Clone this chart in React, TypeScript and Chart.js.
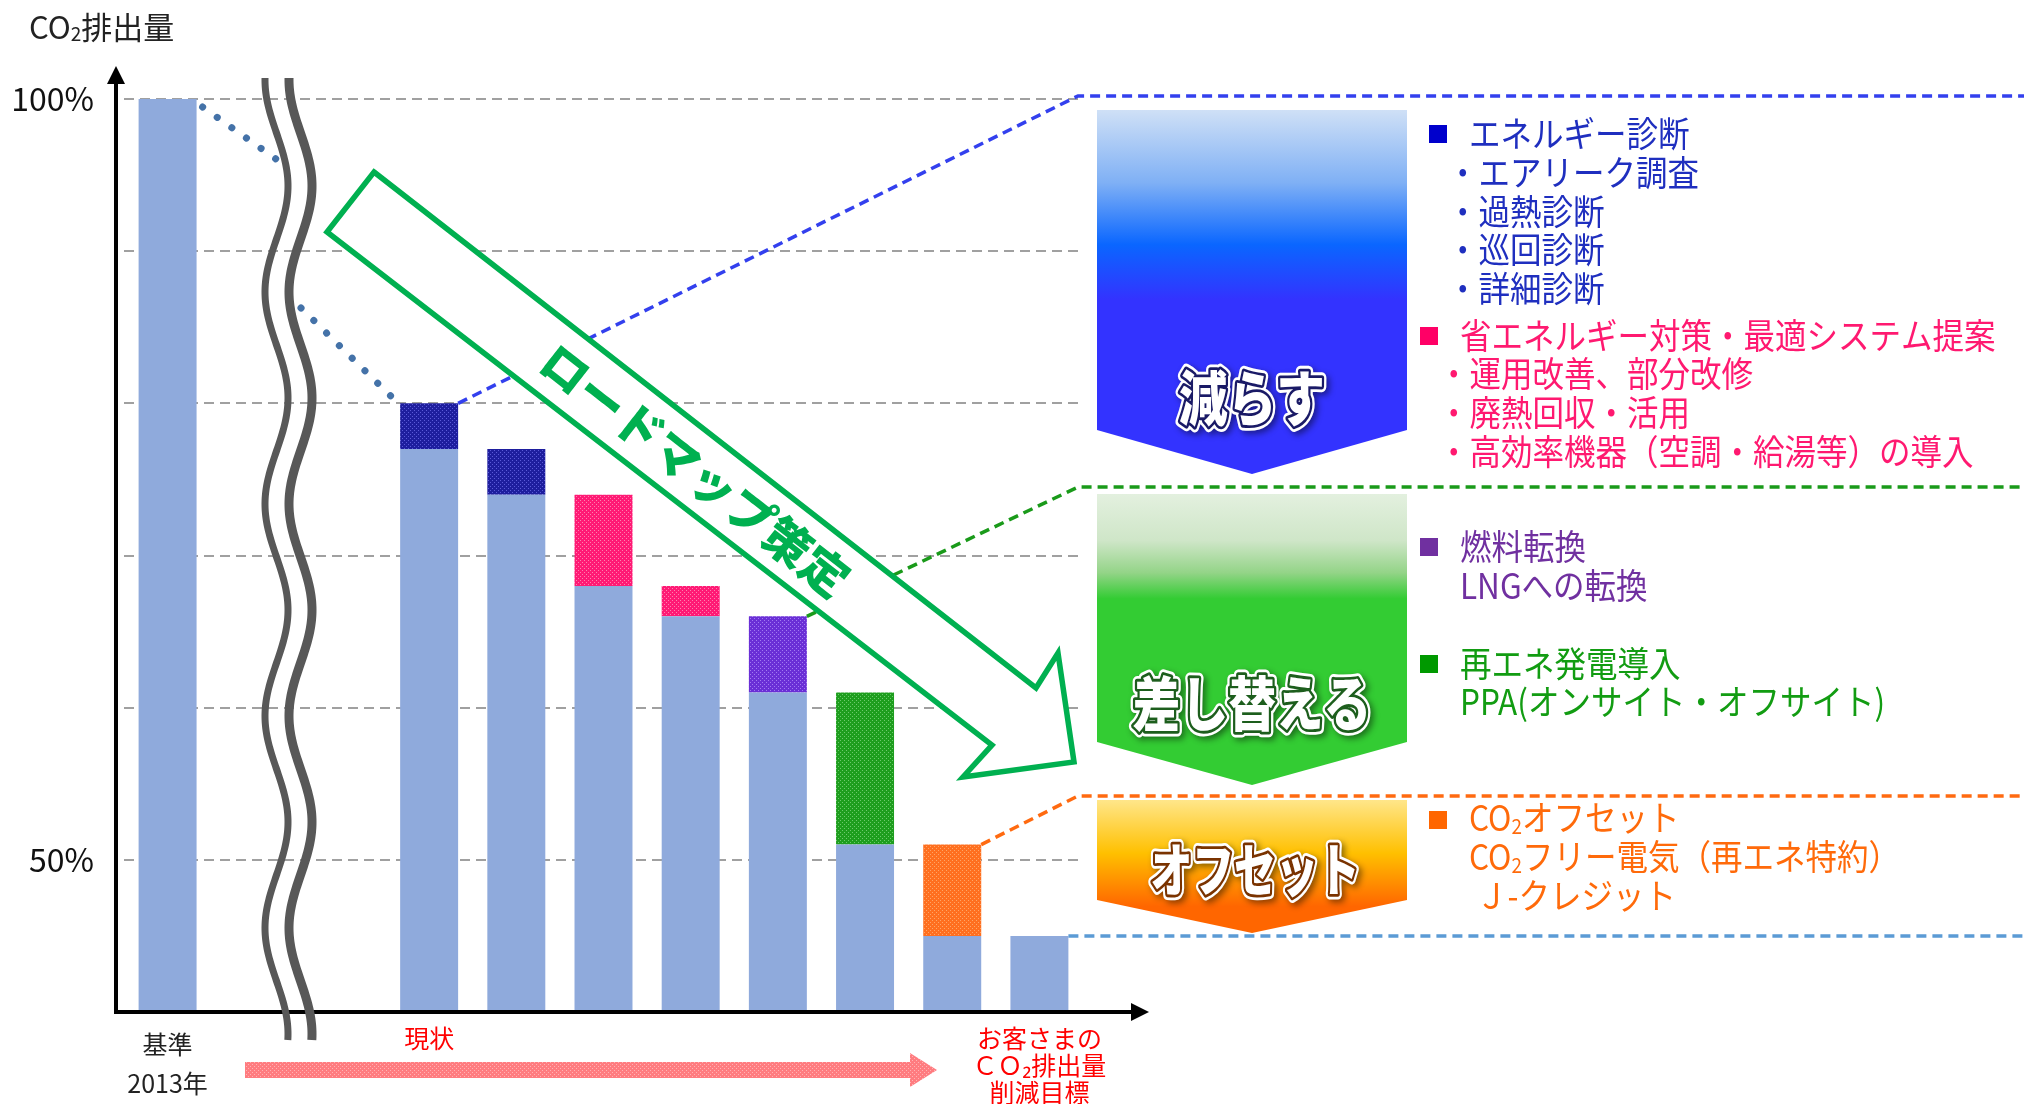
import React, { useEffect, useRef } from 'react';
import { Chart, registerables } from 'chart.js';

Chart.register(...registerables);

const FONT = '"Noto Sans CJK JP", "Noto Sans", sans-serif';

// ---- data ----
const categories: (string | string[])[] = [
  ['基準', '2013年'], '', '', '現状', '', '', '', '', '', '',
  ['お客さまの', 'ＣＯ₂排出量', '削減目標'],
];
const baseValues = [100, null, null, 77, 74, 68, 66, 61, 51, 45, 45];
const diagnosisValues = [null, null, null, 3, 3, null, null, null, null, null, null];
const savingValues = [null, null, null, null, null, 6, 2, null, null, null, null];
const fuelSwitchValues = [null, null, null, null, null, null, null, 5, null, null, null];
const renewableValues = [null, null, null, null, null, null, null, null, 10, null, null];
const offsetValues = [null, null, null, null, null, null, null, null, null, 6, null];
const yMin = 40;
const yMax = 100;
const yTickLabels: Record<number, string> = { 100: '100%', 50: '50%' };
// guide levels (percent) where the right-hand panels begin
const guideReduce = 100.2;
const guideReplace = 74.5;
const guideOffset = 54.2;
const guideTarget = 45;

const reduceLines = ['エネルギー診断', '・エアリーク調査', '・過熱診断', '・巡回診断', '・詳細診断'];
const savingLines = ['省エネルギー対策・最適システム提案', '・運用改善、部分改修', '・廃熱回収・活用', '・高効率機器（空調・給湯等）の導入'];
const fuelLines = ['燃料転換', 'LNGへの転換'];
const renewLines = ['再エネ発電導入', 'PPA(オンサイト・オフサイト)'];
const offsetLines = ['オフセット', 'フリー電気（再エネ特約）', 'Ｊ-クレジット'];

const allSeries = [baseValues, diagnosisValues, savingValues, fuelSwitchValues, renewableValues, offsetValues];

function stackTop(i: number) {
  return allSeries.reduce((s, arr) => s + ((arr[i] as number) || 0), 0);
}

type Seg = { t: string; sub?: boolean };

function drawRich(ctx: CanvasRenderingContext2D, x: number, y: number, segs: Seg[], size: number, color: string, sx = 0.9) {
  ctx.save();
  ctx.translate(x, y);
  ctx.scale(sx, 1);
  ctx.fillStyle = color;
  ctx.textBaseline = 'middle';
  ctx.textAlign = 'left';
  let cx = 0;
  for (const s of segs) {
    if (s.sub) {
      ctx.font = `${Math.round(size * 0.6)}px ${FONT}`;
      ctx.fillText(s.t, cx, size * 0.22);
    } else {
      ctx.font = `${size}px ${FONT}`;
      ctx.fillText(s.t, cx, 0);
    }
    cx += ctx.measureText(s.t).width;
  }
  ctx.restore();
}

function drawBanner(ctx: CanvasRenderingContext2D, x0: number, x1: number, top: number, shoulder: number, tip: number, stops: [number, string][]) {
  ctx.save();
  const g = ctx.createLinearGradient(0, top, 0, tip);
  stops.forEach(([o, c]) => g.addColorStop(o, c));
  ctx.fillStyle = g;
  ctx.beginPath();
  ctx.moveTo(x0, top);
  ctx.lineTo(x1, top);
  ctx.lineTo(x1, shoulder);
  ctx.lineTo((x0 + x1) / 2, tip);
  ctx.lineTo(x0, shoulder);
  ctx.closePath();
  ctx.fill();
  ctx.restore();
}

function drawBannerText(ctx: CanvasRenderingContext2D, text: string, cx: number, cy: number, size: number, sx: number, stroke: string) {
  ctx.save();
  ctx.translate(cx, cy);
  ctx.scale(sx, 1.12);
  ctx.font = `900 ${size}px ${FONT}`;
  ctx.textAlign = 'center';
  ctx.textBaseline = 'middle';
  ctx.lineJoin = 'round';
  ctx.shadowColor = 'rgba(0,0,0,0.45)';
  ctx.shadowBlur = 6;
  ctx.shadowOffsetX = 3;
  ctx.shadowOffsetY = 3;
  ctx.strokeStyle = '#ffffff';
  ctx.lineWidth = 10;
  ctx.strokeText(text, 0, 0);
  ctx.shadowColor = 'transparent';
  ctx.strokeStyle = stroke;
  ctx.lineWidth = 5;
  ctx.strokeText(text, 0, 0);
  ctx.fillStyle = '#ffffff';
  ctx.fillText(text, 0, 0);
  ctx.restore();
}

function dashedPath(ctx: CanvasRenderingContext2D, pts: [number, number][], color: string, width = 3.5, dash = [10, 6]) {
  ctx.save();
  ctx.strokeStyle = color;
  ctx.lineWidth = width;
  ctx.setLineDash(dash);
  ctx.beginPath();
  pts.forEach(([px, py], i) => (i ? ctx.lineTo(px, py) : ctx.moveTo(px, py)));
  ctx.stroke();
  ctx.restore();
}

const overlayPlugin = {
  id: 'overlay',
  afterDraw(chart: any) {
    const { ctx, chartArea } = chart;
    const x = chart.scales.x;
    const y = chart.scales.y;
    const hw = chart.getDatasetMeta(0).data[0].width / 2;
    const px = (i: number) => x.getPixelForValue(i);
    const py = (v: number) => y.getPixelForValue(v);
    const W = chart.width;
    const axisX = chartArea.left - 8;
    const axisY = chartArea.bottom;

    // guide dashed lines
    const rx = chartArea.right - 5;
    dashedPath(ctx, [[px(3) + hw, py(stackTop(3))], [rx, py(guideReduce)], [W, py(guideReduce)]], '#3340EE');
    dashedPath(ctx, [[px(7) + hw, py(stackTop(7))], [rx, py(guideReplace)], [W, py(guideReplace)]], '#1A9A1A');
    dashedPath(ctx, [[px(9) + hw, py(stackTop(9))], [rx, py(guideOffset)], [W, py(guideOffset)]], '#FF6A10');
    dashedPath(ctx, [[px(10) + hw, py(guideTarget)], [W, py(guideTarget)]], '#5B9BD5');

    // axes with arrows
    ctx.save();
    ctx.strokeStyle = '#000';
    ctx.fillStyle = '#000';
    ctx.lineWidth = 4;
    ctx.beginPath();
    ctx.moveTo(axisX, axisY + 2);
    ctx.lineTo(axisX, 80);
    ctx.stroke();
    ctx.beginPath();
    ctx.moveTo(axisX, 66);
    ctx.lineTo(axisX - 9, 84);
    ctx.lineTo(axisX + 9, 84);
    ctx.closePath();
    ctx.fill();
    ctx.beginPath();
    ctx.moveTo(axisX - 2, axisY);
    ctx.lineTo(1132, axisY);
    ctx.stroke();
    ctx.beginPath();
    ctx.moveTo(1149, axisY);
    ctx.lineTo(1131, axisY - 9);
    ctx.lineTo(1131, axisY + 9);
    ctx.closePath();
    ctx.fill();
    ctx.restore();

    // wavy break lines
    ctx.save();
    ctx.strokeStyle = '#585858';
    ctx.lineCap = 'butt';
    const wave = (cx: number, lw: number) => {
      ctx.lineWidth = lw;
      ctx.beginPath();
      for (let yy = 78; yy <= 1040; yy += 2) {
        const xx = cx - 11.5 * Math.cos((2 * Math.PI * (yy - 80)) / 212);
        if (yy === 78) ctx.moveTo(xx, yy);
        else ctx.lineTo(xx, yy);
      }
      ctx.stroke();
    };
    wave(276.5, 7);
    wave(300.5, 9);
    ctx.restore();

    // dotted connector from base bar to current bar
    ctx.save();
    ctx.strokeStyle = '#4472A8';
    ctx.lineWidth = 7;
    ctx.lineCap = 'round';
    ctx.setLineDash([0.1, 17.8]);
    ctx.beginPath();
    ctx.moveTo(px(0) + hw + 6, py(stackTop(0)) + 8);
    ctx.lineTo(276, 159);
    ctx.stroke();
    ctx.beginPath();
    ctx.moveTo(301, 308);
    ctx.lineTo(px(3) - hw - 8, py(stackTop(3)) - 6);
    ctx.stroke();
    ctx.restore();

    // big roadmap arrow
    ctx.save();
    ctx.beginPath();
    const arrowPts: [number, number][] = [[374, 172], [1036, 688], [1058, 653], [1074, 762], [963, 777], [992, 745], [327, 232]];
    arrowPts.forEach(([a, b], i) => (i ? ctx.lineTo(a, b) : ctx.moveTo(a, b)));
    ctx.closePath();
    ctx.fillStyle = '#ffffff';
    ctx.fill();
    ctx.strokeStyle = '#00B050';
    ctx.lineWidth = 5.5;
    ctx.lineJoin = 'miter';
    ctx.stroke();
    ctx.translate(695, 470);
    ctx.rotate(Math.atan2(516, 662));
    ctx.font = `900 47px ${FONT}`;
    ctx.fillStyle = '#00B050';
    ctx.textAlign = 'center';
    ctx.textBaseline = 'middle';
    ctx.fillText('ロードマップ策定', 0, 0);
    ctx.restore();

    // banners
    drawBanner(ctx, 1097, 1407, 110, 430, 474, [[0, '#cfe0f6'], [0.2, '#7fb0f5'], [0.37, '#0a66ff'], [0.52, '#3333ff'], [1, '#3333ff']]);
    drawBanner(ctx, 1097, 1407, 494, 742, 785, [[0, '#e3f0df'], [0.16, '#cfe6c8'], [0.27, '#94d488'], [0.36, '#33cc33'], [1, '#33cc33']]);
    drawBanner(ctx, 1097, 1407, 800, 900, 933, [[0, '#ffe68a'], [0.4, '#ffc000'], [0.8, '#ff6600'], [1, '#ff6600']]);
    drawBannerText(ctx, '減らす', 1252, 398, 54, 0.9, '#1a1a66');
    drawBannerText(ctx, '差し替える', 1252, 703, 53, 0.9, '#1d5e1d');
    drawBannerText(ctx, 'オフセット', 1255, 869, 51, 0.82, '#7a3300');

    // right panel texts
    const SZ = 35;
    const sq = (sx: number, sy: number, c: string) => {
      ctx.fillStyle = c;
      ctx.fillRect(sx, sy, 18, 18);
    };
    // reduce: diagnosis
    sq(1429, 125, '#0000CC');
    drawRich(ctx, 1469, 134, [{ t: reduceLines[0] }], SZ, '#1F2FBF');
    [173, 212, 250, 289].forEach((yy, i) => drawRich(ctx, 1447, yy, [{ t: reduceLines[i + 1] }], SZ, '#1F2FBF'));
    // reduce: saving
    sq(1420, 327, '#FF0066');
    drawRich(ctx, 1460, 336, [{ t: savingLines[0] }], SZ, '#FF1970');
    [374, 413, 452].forEach((yy, i) => drawRich(ctx, 1438, yy, [{ t: savingLines[i + 1] }], SZ, '#FF1970'));
    // replace: fuel
    sq(1420, 538, '#7030A0');
    drawRich(ctx, 1460, 547, [{ t: fuelLines[0] }], SZ, '#7030A0');
    drawRich(ctx, 1460, 586, [{ t: fuelLines[1] }], SZ, '#7030A0');
    // replace: renewables
    sq(1420, 655, '#009900');
    drawRich(ctx, 1460, 664, [{ t: renewLines[0] }], SZ, '#129C12');
    drawRich(ctx, 1460, 702, [{ t: renewLines[1] }], SZ, '#129C12');
    // offset
    sq(1429, 811, '#FF6600');
    drawRich(ctx, 1469, 818, [{ t: 'CO' }, { t: '2', sub: true }, { t: offsetLines[0] }], SZ, '#FF6A0A');
    drawRich(ctx, 1469, 857, [{ t: 'CO' }, { t: '2', sub: true }, { t: offsetLines[1] }], SZ, '#FF6A0A');
    drawRich(ctx, 1476, 896, [{ t: offsetLines[2] }], SZ, '#FF6A0A');

    // pink timeline arrow
    ctx.save();
    const pc = document.createElement('canvas');
    pc.width = 4;
    pc.height = 4;
    const pg = pc.getContext('2d')!;
    pg.fillStyle = '#FF7C80';
    pg.fillRect(0, 0, 4, 4);
    pg.fillStyle = '#FFB3B5';
    pg.fillRect(0, 0, 1, 1);
    pg.fillRect(2, 2, 1, 1);
    ctx.fillStyle = ctx.createPattern(pc, 'repeat')!;
    ctx.beginPath();
    ctx.moveTo(245, 1062);
    ctx.lineTo(910, 1062);
    ctx.lineTo(910, 1053);
    ctx.lineTo(937, 1070);
    ctx.lineTo(910, 1087);
    ctx.lineTo(910, 1078);
    ctx.lineTo(245, 1078);
    ctx.closePath();
    ctx.fill();
    ctx.restore();

    // y-axis title
    drawRich(ctx, 29, 27, [{ t: 'CO' }, { t: '2', sub: true }, { t: '排出量' }], 31, '#222222', 1);
  },
};

export default function App() {
  const ref = useRef<HTMLCanvasElement>(null);
  useEffect(() => {
    const canvas = ref.current!;
    const ctx = canvas.getContext('2d')!;
    const pat = (base: string, dot: string) => {
      const c = document.createElement('canvas');
      c.width = 4;
      c.height = 4;
      const g = c.getContext('2d')!;
      g.fillStyle = base;
      g.fillRect(0, 0, 4, 4);
      g.fillStyle = dot;
      g.fillRect(0, 0, 1, 1);
      g.fillRect(2, 2, 1, 1);
      return ctx.createPattern(c, 'repeat')!;
    };
    const common = { stack: 's', barPercentage: 0.665, categoryPercentage: 1, borderWidth: 0 };
    const chart = new Chart(canvas, {
      type: 'bar',
      data: {
        labels: categories as any,
        datasets: [
          { ...common, label: 'base', data: baseValues, backgroundColor: '#8FAADC' },
          { ...common, label: 'diagnosis', data: diagnosisValues, backgroundColor: pat('#1E1E9E', '#5A5AD8') },
          { ...common, label: 'saving', data: savingValues, backgroundColor: pat('#FF1A75', '#FF80AE') },
          { ...common, label: 'fuel', data: fuelSwitchValues, backgroundColor: pat('#6A2FD6', '#A27AF2') },
          { ...common, label: 'renewable', data: renewableValues, backgroundColor: pat('#1E9E1E', '#6CCB6C') },
          { ...common, label: 'offset', data: offsetValues, backgroundColor: pat('#FF6F1F', '#FFA566') },
        ] as any,
      },
      options: {
        animation: false,
        responsive: false,
        devicePixelRatio: 1,
        layout: { padding: { left: 0, top: 99, right: 941, bottom: 0 } },
        plugins: { legend: { display: false }, tooltip: { enabled: false } },
        scales: {
          x: {
            stacked: true,
            grid: { display: false, drawTicks: false },
            border: { display: false },
            afterFit: (s: any) => {
              s.height = 92;
            },
            ticks: {
              autoSkip: false,
              maxRotation: 0,
              padding: 13,
              color: (c: any) => (c.index === 0 ? '#222222' : '#FF0000'),
              font: (c: any) => ({ family: FONT, size: 25, lineHeight: c.index === 0 ? 1.55 : 1.08 }),
            },
          },
          y: {
            stacked: true,
            min: yMin,
            max: yMax,
            afterFit: (s: any) => {
              s.width = 124;
            },
            border: { display: false, dash: [10, 6] },
            grid: {
              drawTicks: false,
              lineWidth: 2,
              color: (c: any) => (c.tick && c.tick.value === yMin ? 'rgba(0,0,0,0)' : '#A0A0A0'),
            },
            ticks: {
              stepSize: 10,
              padding: 30,
              color: '#111111',
              font: { family: FONT, size: 32 },
              callback: (v: any) => yTickLabels[v as number] || '',
            },
          },
        },
      } as any,
      plugins: [overlayPlugin],
    });
    if ((document as any).fonts) {
      Promise.all([
        (document as any).fonts.load(`30px "Noto Sans CJK JP"`),
        (document as any).fonts.load(`bold 30px "Noto Sans CJK JP"`),
      ]).then(() => chart.update()).catch(() => {});
    }
    return () => chart.destroy();
  }, []);
  return (
    <div style={{ position: 'absolute', left: 0, top: 0, width: 2024, height: 1104, background: '#ffffff' }}>
      <canvas ref={ref} width={2024} height={1104} style={{ display: 'block', width: 2024, height: 1104 }} />
    </div>
  );
}
